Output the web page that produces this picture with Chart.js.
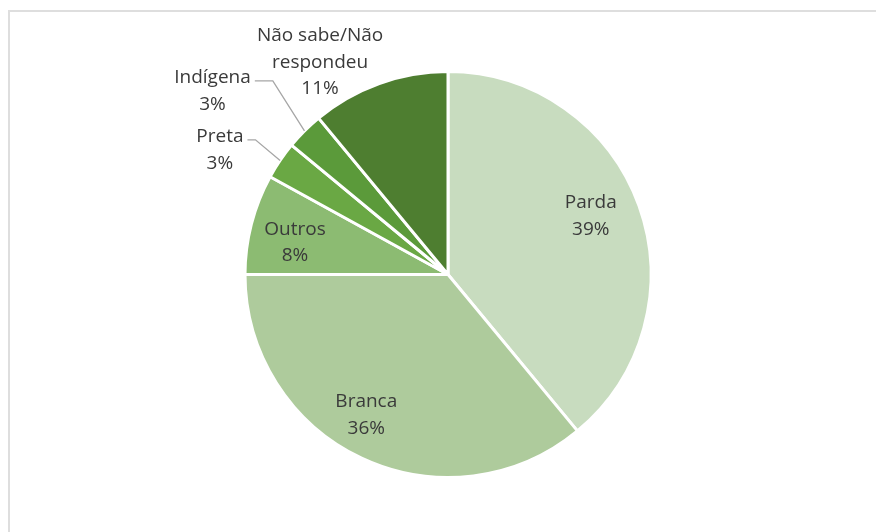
<!DOCTYPE html>
<html>
<head>
<meta charset="utf-8">
<script src="https://cdn.jsdelivr.net/npm/chart.js@4.4.0/dist/chart.umd.min.js"></script>
<style>
  html, body { margin: 0; padding: 0; background: #fff; }
  #wrap { position: relative; width: 876px; height: 532px; overflow: hidden; }
  #frame { position: absolute; left: 8px; top: 10px; width: 900px; height: 560px;
           border-top: 2px solid #dedede; border-left: 2px solid #dedede; }
  canvas { position: absolute; left: 0; top: 0; }
</style>
</head>
<body>
<div id="wrap">
  <div id="frame"></div>
  <canvas id="chart" width="876" height="532"></canvas>
</div>
<script>
// categories and values (percent)
const categories = ['Parda', 'Branca', 'Outros', 'Preta', 'Indígena', 'Não sabe/Não respondeu'];
const values = [39, 36, 8, 3, 3, 11];
const labelLines = [['Parda'], ['Branca'], ['Outros'], ['Preta'], ['Indígena'], ['Não sabe/Não', 'respondeu']];
const colors = ['#c8dcbf', '#aecb9c', '#8cbb72', '#6aa844', '#5b9a3a', '#4e7e30'];

// label placement: distance as fraction of radius, angle shift in degrees, leader line
const placement = [
  { ratio: 0.76, shift: -2.5, leader: false },
  { ratio: 0.80, shift: 5, leader: false },
  { ratio: 0.77, shift: -2.6, leader: false },
  { ratio: 1.28, shift: -5.6, leader: true },
  { ratio: 1.47, shift: -7.1, leader: true },
  { ratio: 1.22, shift: -11.3, leader: false }
];

const labelPlugin = {
  id: 'pieLabels',
  afterDatasetsDraw(chart) {
    const ctx = chart.ctx;
    const meta = chart.getDatasetMeta(0);
    const total = values.reduce((a, b) => a + b, 0);
    ctx.save();
    ctx.font = '19px "Open Sans"';
    ctx.fillStyle = '#3a3a3a';
    ctx.textAlign = 'center';
    ctx.textBaseline = 'middle';
    const lineH = 26.5;
    meta.data.forEach((arc, i) => {
      const p = arc.getProps(['x', 'y', 'startAngle', 'endAngle', 'outerRadius'], true);
      const mid = (p.startAngle + p.endAngle) / 2;
      const a = mid + placement[i].shift * Math.PI / 180;
      const r = p.outerRadius * placement[i].ratio;
      const cx = p.x + Math.cos(a) * r;
      const cy = p.y + Math.sin(a) * r;
      const lines = labelLines[i].concat([Math.round(values[i] / total * 100) + '%']);
      const y0 = cy - (lines.length - 1) * lineH / 2;
      lines.forEach((t, k) => ctx.fillText(t, cx, y0 + k * lineH));
      if (placement[i].leader) {
        const w = ctx.measureText(lines[0]).width;
        const sx = cx + w / 2 + 4;
        const sy = y0 + 3;
        const ex = p.x + Math.cos(mid) * p.outerRadius;
        const ey = p.y + Math.sin(mid) * p.outerRadius;
        ctx.beginPath();
        ctx.strokeStyle = '#a6a6a6';
        ctx.lineWidth = 1.3;
        ctx.moveTo(sx, sy);
        ctx.lineTo(sx + (i === 3 ? 8 : 18), sy);
        ctx.lineTo(ex, ey);
        ctx.stroke();
      }
    });
    ctx.restore();
  }
};

new Chart(document.getElementById('chart'), {
  type: 'pie',
  data: {
    labels: categories,
    datasets: [{
      data: values,
      backgroundColor: colors,
      borderColor: '#ffffff',
      borderWidth: 3
    }]
  },
  options: {
    responsive: false,
    animation: false,
    layout: { padding: { left: 243, right: 223, top: 70, bottom: 53 } },
    plugins: {
      legend: { display: false },
      tooltip: { enabled: false }
    }
  },
  plugins: [labelPlugin]
});
</script>
</body>
</html>
